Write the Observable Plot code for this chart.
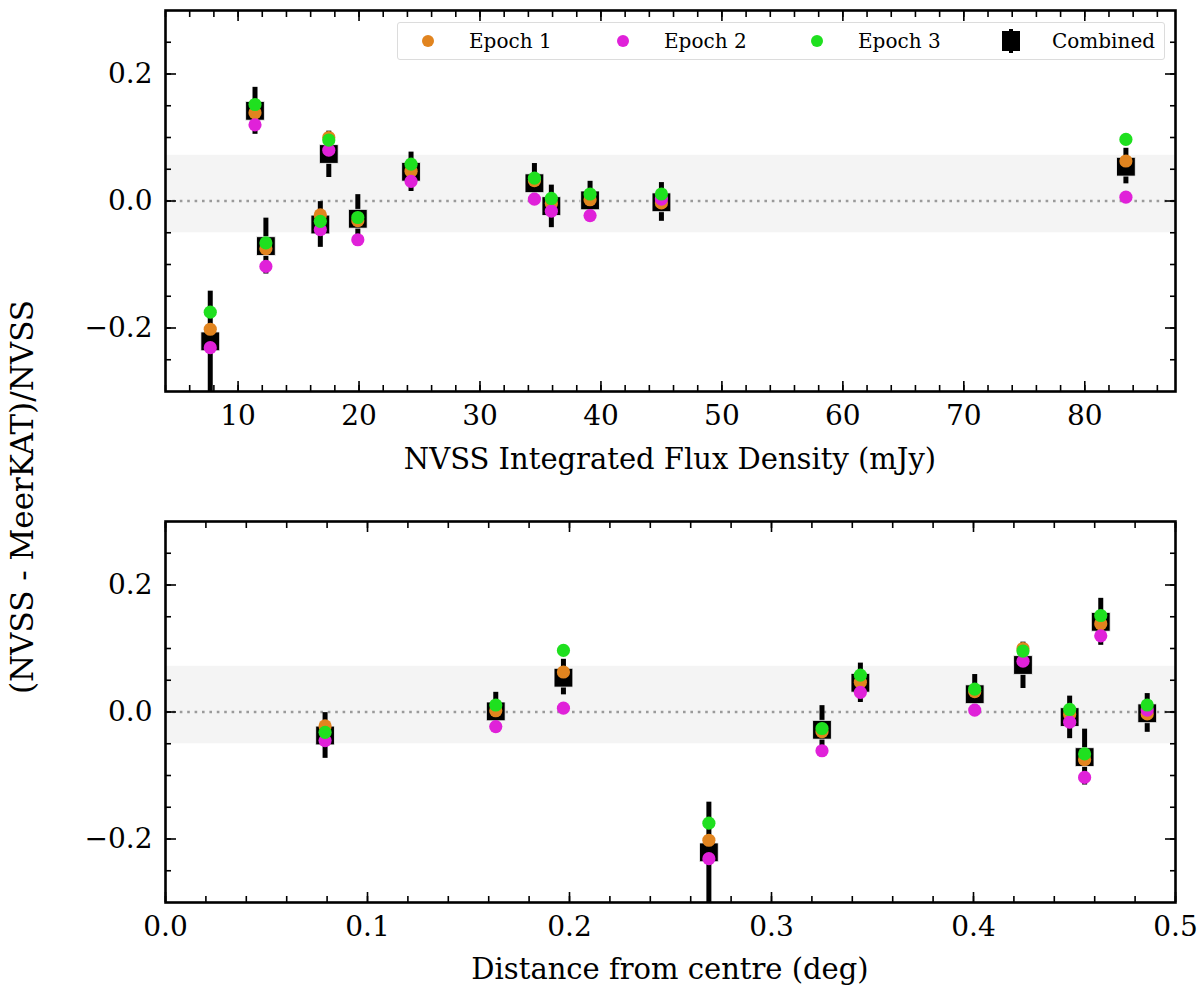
<!DOCTYPE html>
<html>
<head>
<meta charset="utf-8">
<script src="https://cdn.jsdelivr.net/npm/d3@7"></script>
<script src="https://cdn.jsdelivr.net/npm/@observablehq/plot@0.6"></script>
<style>
  body { margin: 0; background: #fff; }
  #fig { position: relative; width: 1200px; height: 993px; font-family: "DejaVu Serif", serif; color: #000; }
  #top, #bottom { position: absolute; left: 0; }
  #top { top: 0; }
  #bottom { top: 480px; }
  .xlabel { position: absolute; left: 165px; width: 1010px; text-align: center; font-size: 29px; line-height: 1; }
  #ylabel { position: absolute; left: 22px; top: 497px; font-size: 31px; white-space: nowrap;
            transform: translate(-50%, -50%) rotate(-90deg); line-height: 1; }
  #legend { position: absolute; left: 397px; top: 22px; width: 766px; height: 36px;
            border: 1.5px solid #dcdcdc; border-radius: 3px; background: rgba(255,255,255,0.85); font-size: 20px; }
  .item { position: absolute; top: 0; height: 36px; line-height: 36px; }
  .sw { position: absolute; }
</style>
</head>
<body>
<div id="fig">
  <div id="top"></div>
  <div id="bottom"></div>
  <div class="xlabel" style="top:445px">NVSS Integrated Flux Density (mJy)</div>
  <div class="xlabel" style="top:955px">Distance from centre (deg)</div>
  <div id="ylabel">(NVSS - MeerKAT)/NVSS</div>
  <div id="legend"></div>
</div>
<script>
// sources
const flux = [7.7, 11.4, 12.3, 16.8, 17.5, 19.9, 24.3, 34.5, 35.9, 39.1, 45.0, 83.4]
const dist = [0.269, 0.463, 0.455, 0.079, 0.4245, 0.325, 0.344, 0.4006, 0.4476, 0.1635, 0.486, 0.197]
const combined = [-0.221, 0.142, -0.071, -0.037, 0.074, -0.028, 0.046, 0.028, -0.008, 0.001, -0.002, 0.054]
const errLo = [-0.31, 0.105, -0.115, -0.073, 0.037, -0.064, 0.015, -0.003, -0.042, -0.029, -0.032, 0.027]
const errHi = [-0.142, 0.179, -0.027, -0.001, 0.110, 0.010, 0.077, 0.059, 0.025, 0.031, 0.029, 0.083]
const epoch1 = [-0.202, 0.139, -0.075, -0.022, 0.100, -0.031, 0.047, 0.032, -0.004, 0.002, -0.003, 0.063]
const epoch2 = [-0.231, 0.120, -0.103, -0.045, 0.080, -0.061, 0.031, 0.003, -0.016, -0.023, 0.003, 0.006]
const epoch3 = [-0.175, 0.152, -0.066, -0.032, 0.096, -0.026, 0.058, 0.036, 0.004, 0.011, 0.011, 0.097]

// grey band
const band = [{lo: -0.05, hi: 0.072}]

// axes
const fluxTicks = [10, 20, 30, 40, 50, 60, 70, 80]
const distTicks = [0.0, 0.1, 0.2, 0.3, 0.4, 0.5]
const yTicks = [-0.2, 0.0, 0.2]

const colors = {e1: "#e1841f", e2: "#e021d9", e3: "#1fe01f"}
const font = "DejaVu Serif, serif"

const rows = flux.map((f, i) => ({
  flux: f, dist: dist[i], comb: combined[i], lo: errLo[i], hi: errHi[i],
  e1: epoch1[i], e2: epoch2[i], e3: epoch3[i]
}))

function ticksOf(k, vals, anchor, size) {
  const axis = k == "x" ? Plot.axisX : Plot.axisY
  return axis(vals, {anchor, tickSize: -size, tickFormat: () => "", label: null, strokeWidth: 1.6})
}

function panel(key, domain, major, minor, fmt, height, marginTop, marginBottom) {
  return Plot.plot({
    width: 1200,
    height,
    marginLeft: 165,
    marginRight: 25,
    marginTop,
    marginBottom,
    style: {fontFamily: font, fontSize: "28px", background: "transparent"},
    x: {domain, label: null},
    y: {domain: [-0.3, 0.3], label: null},
    marks: [
      Plot.rect(band, {x1: () => domain[0], x2: () => domain[1], y1: "lo", y2: "hi", fill: "#f4f4f4"}),
      Plot.ruleY([0], {stroke: "#9a9a9a", strokeWidth: 2.4, strokeDasharray: "2.6,4.8"}),
      Plot.ruleX(rows, {x: key, y1: "lo", y2: "hi", stroke: "black", strokeWidth: 5, clip: true}),
      Plot.dot(rows, {x: key, y: "comb", symbol: "square", r: 10.6, fill: "black", stroke: "white", strokeWidth: 0.8}),
      Plot.dot(rows, {x: key, y: "e1", r: 6.6, fill: colors.e1}),
      Plot.dot(rows, {x: key, y: "e2", r: 6.6, fill: colors.e2}),
      Plot.dot(rows, {x: key, y: "e3", r: 6.6, fill: colors.e3}),
      ticksOf("x", major, "bottom", 10), ticksOf("x", minor, "bottom", 6),
      ticksOf("x", major, "top", 10), ticksOf("x", minor, "top", 6),
      ticksOf("y", yTicks, "left", 11), ticksOf("y", d3.range(-0.25, 0.3, 0.05), "left", 6),
      ticksOf("y", yTicks, "right", 11), ticksOf("y", d3.range(-0.25, 0.3, 0.05), "right", 6),
      Plot.axisX(major, {anchor: "bottom", tickSize: 0, tickPadding: 14, tickFormat: fmt, label: null}),
      Plot.axisY(yTicks, {anchor: "left", tickSize: 0, tickPadding: 13, tickFormat: d => d3.format(".1f")(d), label: null}),
      Plot.frame({stroke: "black", strokeWidth: 2.6})
    ]
  })
}

document.querySelector("#top").append(
  panel("flux", [4, 87.5], fluxTicks, d3.range(4, 88, 2), d => String(d), 480, 10, 89))
document.querySelector("#bottom").append(
  panel("dist", [0, 0.5], distTicks, d3.range(0, 0.501, 0.02), d => d3.format(".1f")(d), 513, 41, 91))

// legend
const legendItems = [
  {label: "Epoch 1", color: colors.e1, sw: 30, tx: 71},
  {label: "Epoch 2", color: colors.e2, sw: 225, tx: 266},
  {label: "Epoch 3", color: colors.e3, sw: 419, tx: 460},
  {label: "Combined", color: "black", sw: 613, tx: 654, square: true}
]
const leg = d3.select("#legend")
legendItems.forEach(it => {
  if (it.square) {
    leg.append("div").attr("class", "sw")
      .style("left", (it.sw - 2) + "px").style("top", "6px")
      .style("width", "4px").style("height", "24px").style("background", it.color)
    leg.append("div").attr("class", "sw")
      .style("left", (it.sw - 9) + "px").style("top", "8px")
      .style("width", "18px").style("height", "20px").style("background", it.color)
  } else {
    leg.append("div").attr("class", "sw")
      .style("left", (it.sw - 6) + "px").style("top", "12px")
      .style("width", "12px").style("height", "12px").style("border-radius", "50%").style("background", it.color)
  }
  leg.append("div").attr("class", "item").style("left", it.tx + "px").text(it.label)
})
</script>
</body>
</html>
